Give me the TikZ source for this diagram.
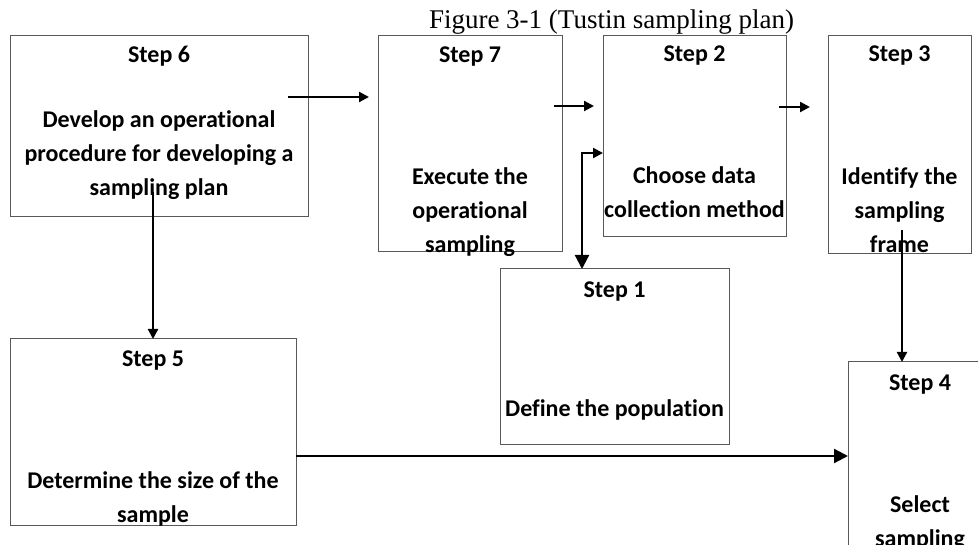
\documentclass[tikz,border=0pt]{standalone}
\usepackage{fontspec}
\setmainfont{Liberation Serif}
\newfontfamily\calfont[Ligatures={NoCommon,NoContextual,NoRare}]{Carlito}
\usetikzlibrary{arrows.meta}
\begin{document}
\begin{tikzpicture}[x=1pt,y=-1pt,
  box/.style={draw=black!65,line width=1pt,inner sep=0pt,outer sep=0pt,rectangle},
  lbl/.style={font=\calfont\bfseries\fontsize{24}{34}\selectfont,align=center,anchor=base,inner sep=0pt},
  conn/.style={line width=2.2pt,-{Triangle[length=10pt,width=10pt]}},
  bigconn/.style={line width=2.2pt,-{Triangle[length=14pt,width=14pt]}}
]
\clip (0,0) rectangle (978,545);
\fill[white] (0,0) rectangle (978,545);
% title
\node[font=\fontsize{27}{30}\selectfont,anchor=base,inner sep=0pt] (title) at (611.5,29) {Figure 3-1 (Tustin sampling plan)};
% boxes
\node[box,minimum width=298pt,minimum height=181pt] (b6) at (159,126.5) {};
\node[box,minimum width=184pt,minimum height=216pt] (b7) at (470,144) {};
\node[box,minimum width=183pt,minimum height=201pt] (b2) at (694.5,136.5) {};
\node[box,minimum width=143pt,minimum height=218pt] (b3) at (899.5,145) {};
\node[box,minimum width=229pt,minimum height=176pt] (b1) at (614.5,357) {};
\node[box,minimum width=144pt,minimum height=238pt] (b4) at (920,481) {};
\node[box,minimum width=286pt,minimum height=186pt] (b5) at (153,432) {};
% texts (base anchor = baseline of the last line)
\node[lbl] (t6) at (159,63) {Step 6};
\node[lbl] (d6) at (159,196) {Develop an operational\\procedure for developing a\\sampling plan};
\node[lbl] (t7) at (470,63) {Step 7};
\node[lbl] (d7) at (470,253) {Execute the\\operational\\sampling};
\node[lbl] (t2) at (694.5,62) {Step 2};
\node[lbl] (d2) at (694.5,218) {Choose data\\collection method};
\node[lbl] (t3) at (899.5,62) {Step 3};
\node[lbl] (d3) at (899.5,253) {Identify the\\sampling\\frame};
\node[lbl] (t1) at (614.5,298) {Step 1};
\node[lbl] (d1) at (614.5,417) {Define the population};
\node[lbl] (t4) at (920,391) {Step 4};
\node[lbl] (d4) at (920,546) {Select\\sampling};
\node[lbl] (t5) at (153,367) {Step 5};
\node[lbl] (d5) at (153,522) {Determine the size of the\\sample};
% connector end points
\coordinate (a67) at (288,97);
\coordinate (e67) at (369,97);
\coordinate (a72) at (554,106);
\coordinate (e72) at (594,106);
\coordinate (a23) at (779,107);
\coordinate (e23) at (810,107);
\coordinate (k12) at (582,153);
\coordinate (a65) at (153,192);
\coordinate (a34) at (902,230);
\coordinate (a54) at (153,456);
% connectors
\draw[conn] (a67) -- (e67);
\draw[conn] (a72) -- (e72);
\draw[conn] (a23) -- (e23);
\draw[line width=2.2pt,{Triangle[length=14pt,width=14pt]}-{Triangle[length=10pt,width=10pt]}] (k12 |- b1.north) -- (k12) -- (k12 -| b2.west);
\draw[conn] (a65) -- (b5.north);
\draw[conn] (a34) -- (a34 |- b4.north);
\draw[bigconn] (a54 -| b5.east) -- (a54 -| b4.west);
\end{tikzpicture}
\end{document}
